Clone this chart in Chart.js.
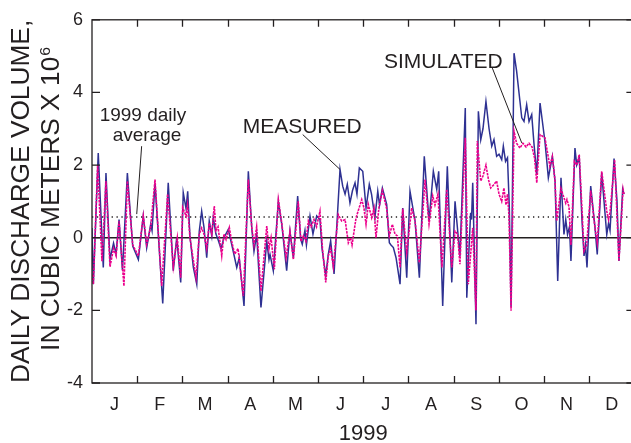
<!DOCTYPE html>
<html>
<head>
<meta charset="utf-8">
<script src="https://cdn.jsdelivr.net/npm/chart.js@4.4.1/dist/chart.umd.min.js"></script>
<style>
  html, body { margin: 0; padding: 0; background: #fff; overflow: hidden; }
  #wrap { width: 645px; height: 443px; position: relative; }
</style>
</head>
<body>
<div id="wrap"><canvas id="dischargeChart"></canvas></div>
<script>
// daily discharge volume, million m3, as [day of year, value] turning points
const measured = [
  [0,0.27],[0.9,-1.28],[4.2,2.33],[7.6,-0.82],[9.4,1.78],[12.1,-0.6],[14.5,-0.15],[16.2,-0.45],[18.2,0.5],[20.5,-0.9],
  [23.8,1.78],[27.4,-0.23],[31.2,-0.6],[34.5,0.6],[36.8,-0.28],[39.5,0.37],[40.4,0.2],[42.4,1.5],[47.6,-1.81],[51.3,1.51],
  [54.7,-0.91],[57.0,0.0],[59.7,-1.23],[61.4,1.24],[63.3,0.8],[64.4,1.28],[65.9,0.05],[68.2,-0.82],[70.5,-1.28],[72.2,0.18],
  [73.8,0.73],[75.4,0.27],[77.2,-0.55],[78.9,0.46],[80.6,0.05],[81.6,0.55],[83.4,0.1],[84.8,-0.05],[86.8,-0.3],[88.8,0.0],
  [91.7,0.23],[94.0,-0.18],[97.4,-0.82],[99.1,-0.55],[102.3,-1.88],[105.2,1.83],[107.5,0.27],[109.0,-0.37],[110.8,0.1],[113.7,-1.92],
  [117.6,-0.09],[119.1,-0.6],[119.8,-0.46],[122.0,-0.91],[125.4,1.0],[127.7,0.37],[131.0,-0.91],[133.2,0.18],[135.5,-0.55],[138.4,1.15],
  [140.4,-0.04],[141.5,-0.18],[143.3,0.2],[144.3,-0.2],[146.7,0.6],[148.7,0.1],[151.2,0.6],[153.4,0.5],[154.8,-0.3],[157.3,-1.05],
  [159.0,-0.46],[160.6,-0.09],[162.9,-1.0],[166.9,1.88],[168.7,1.42],[170.3,1.2],[171.8,1.47],[173.6,0.96],[175.3,1.3],[177.0,1.51],
  [178.3,1.2],[179.9,1.92],[182.2,1.83],[183.0,1.47],[184.4,0.82],[186.6,1.47],[188.1,1.2],[190.4,0.55],[192.3,1.28],[193.5,0.9],
  [195.4,1.37],[198.3,0.92],[200.1,-0.14],[201.2,-0.2],[202.8,-0.27],[204.6,-0.55],[207.3,-1.28],[209.1,0.82],[211.8,-1.1],[214.0,1.28],
  [217.4,0.46],[220.3,-1.1],[223.6,2.24],[226.8,0.46],[229.7,1.83],[232.0,1.33],[233.3,1.83],[236.0,-1.88],[239.1,1.97],[242.1,-1.23],
  [244.3,1.0],[246.5,0.0],[247.6,-0.5],[251.2,3.57],[252.2,-1.65],[254.8,0.69],[255.4,0.5],[256.2,1.51],[258.4,-2.38],[260.0,3.48],
  [261.6,2.7],[263.1,3.0],[265.1,3.75],[267.2,3.0],[269.0,2.52],[270.5,2.7],[272.3,2.24],[273.9,2.3],[275.7,2.15],[276.8,2.52],
  [278.3,2.1],[279.6,2.2],[280.8,0.87],[282.0,-1.9],[284.0,5.08],[285.7,4.6],[288.0,3.75],[289.2,3.3],[290.7,3.2],[292.5,3.66],
  [294.1,3.2],[295.9,3.39],[297.4,2.6],[299.3,1.74],[301.5,3.71],[304.8,2.65],[307.1,1.65],[309.8,2.24],[311.6,1.56],[313.4,-1.19],
  [315.6,1.65],[317.6,0.09],[318.8,0.5],[320.0,0.09],[321.3,0.3],[322.3,-0.64],[325.0,2.47],[326.2,2.0],[327.9,2.2],[329.7,0.5],
  [331.1,-0.5],[332.1,-0.2],[333.1,-0.82],[335.6,1.42],[338.5,0.27],[340.0,-0.46],[343.0,1.78],[346.4,0.09],[347.6,0.4],[348.6,0.2],
  [351.3,2.18],[353.3,1.0],[354.6,-0.64],[357.1,1.33],[358.0,1.2]
];

const simulated = [
  [0,-1.0],[0.9,-1.28],[3.8,2.0],[6.7,-0.65],[9.4,1.56],[12.1,-0.8],[14.5,-0.3],[16.2,-0.5],[18.2,0.45],[21.5,-1.33],
  [23.8,1.56],[27.4,-0.2],[31.2,-0.5],[34.5,0.6],[36.8,-0.18],[39.5,0.3],[42.4,1.6],[46.9,-1.33],[50.9,1.2],[54.7,-0.8],
  [57.4,0.0],[59.7,-1.1],[61.0,0.83],[63.3,0.6],[64.3,0.9],[65.9,0.0],[70.0,-1.1],[72.2,0.1],[73.8,0.27],[75.4,0.1],
  [77.2,-0.3],[78.9,0.4],[80.6,0.1],[82.3,0.87],[83.4,0.2],[84.8,0.3],[87.3,-0.5],[88.8,0.1],[90.2,-0.05],[92.4,0.28],
  [94.0,-0.1],[96.0,-0.45],[98.3,-0.3],[101.8,-1.6],[105.2,1.6],[107.5,0.3],[109.0,-0.2],[110.8,0.3],[113.7,-1.47],[117.6,0.32],
  [119.1,-0.3],[120.5,0.0],[122.7,-0.87],[125.4,1.05],[127.7,0.4],[130.6,-0.55],[133.2,0.18],[135.5,-0.6],[138.8,1.0],[140.6,-0.1],
  [142.3,0.05],[144.0,-0.1],[145.6,0.46],[147.4,0.3],[149.4,0.5],[151.1,0.3],[153.4,0.73],[155.1,-0.3],[157.3,-1.23],[159.0,-0.5],
  [160.6,-0.3],[162.4,-0.8],[165.7,0.64],[168.0,0.46],[170.3,0.5],[172.5,-0.14],[174.0,0.0],[175.0,-0.2],[177.7,0.55],[181.5,1.05],
  [183.0,0.82],[184.4,0.37],[185.9,0.92],[188.2,0.55],[189.8,0.82],[191.1,0.0],[193.1,0.83],[195.4,1.3],[198.3,0.8],[200.1,0.05],
  [202.1,0.37],[203.9,0.1],[205.5,0.05],[207.3,-0.82],[209.1,0.8],[211.8,-0.41],[215.1,0.82],[217.4,0.46],[220.3,-0.69],[224.1,1.6],
  [226.8,0.37],[229.3,1.15],[230.8,0.9],[232.8,1.2],[235.5,-0.82],[238.7,1.33],[242.1,-0.82],[244.3,0.18],[246.0,0.1],[247.6,-0.73],
  [251.2,2.75],[253.2,-1.28],[256.2,0.27],[258.4,-2.0],[259.3,2.66],[261.6,1.56],[263.1,1.7],[265.1,2.0],[266.8,1.6],[268.3,1.37],
  [270.2,1.45],[272.3,1.56],[273.9,1.2],[275.7,1.0],[277.2,1.37],[278.6,0.9],[279.6,1.2],[280.6,0.6],[282.0,-2.01],[284.0,2.93],
  [285.7,2.6],[288.0,2.47],[290.0,2.6],[292.1,2.5],[294.1,2.6],[296.1,2.5],[297.8,2.2],[299.3,1.51],[301.5,2.84],[304.8,2.75],
  [308.1,1.97],[309.8,2.24],[311.6,1.56],[312.7,0.46],[315.6,1.35],[317.6,1.1],[318.8,0.95],[319.6,1.05],[321.0,0.85],[322.3,-0.2],
  [324.6,2.1],[326.2,2.0],[327.9,2.29],[331.1,-0.37],[332.9,-0.2],[335.6,1.3],[338.5,0.27],[340.0,-0.14],[343.0,1.83],[346.4,0.73],
  [347.6,0.5],[348.6,0.7],[351.7,2.15],[354.6,-0.64],[357.4,1.33],[358.0,1.2]
];

const dailyAverage = 0.57;
const monthLabels = ['J', 'F', 'M', 'A', 'M', 'J', 'J', 'A', 'S', 'O', 'N', 'D'];
const yearLabel = '1999';
const yTicks = [-4, -2, 0, 2, 4, 6];

const DAYS = 365;
const monthLen = DAYS / 12;
const ink = '#231f20';
const fontFam = '"Liberation Sans", Arial, Helvetica, sans-serif';

// callouts: text anchor and leader line in data units
const notes = [
  { lines: ['1999 daily', 'average'], at: [34.3, 3.22], align: 'center', leader: [[33.4, 2.52], [30.1, 0.65]], size: 19 },
  { lines: ['MEASURED'], at: [101.4, 2.88], align: 'left', leader: [[141.8, 2.84], [166.9, 1.88]], size: 21 },
  { lines: ['SIMULATED'], at: [196.5, 4.67], align: 'left', leader: [[269.4, 4.67], [289.2, 2.61]], size: 21 }
];

const toXY = arr => arr.map(([d, v]) => ({ x: d, y: v }));

const boxPlugin = {
  id: 'boxPlugin',
  afterDatasetsDraw(chart) {
    const { ctx, chartArea: a, scales: { x, y } } = chart;
    ctx.save();
    ctx.strokeStyle = ink;
    ctx.lineWidth = 1.3;
    ctx.strokeRect(a.left, a.top, a.right - a.left, a.bottom - a.top);

    // inward tick marks on all four sides
    ctx.beginPath();
    for (let k = 1; k < 12; k++) {
      const px = Math.round(x.getPixelForValue(k * monthLen)) + 0.5;
      ctx.moveTo(px, a.bottom); ctx.lineTo(px, a.bottom - 7);
      ctx.moveTo(px, a.top); ctx.lineTo(px, a.top + 7);
    }
    yTicks.forEach(t => {
      const py = y.getPixelForValue(t);
      ctx.moveTo(a.left, py); ctx.lineTo(a.left + 8, py);
      ctx.moveTo(a.right, py); ctx.lineTo(a.right - 8, py);
    });
    ctx.stroke();

    // callout text and leaders
    ctx.fillStyle = ink;
    ctx.lineWidth = 1;
    notes.forEach(n => {
      ctx.font = n.size + 'px ' + fontFam;
      ctx.textAlign = n.align;
      ctx.textBaseline = 'alphabetic';
      const tx = x.getPixelForValue(n.at[0]);
      const ty = y.getPixelForValue(n.at[1]);
      n.lines.forEach((s, i) => ctx.fillText(s, tx + (i ? 4 : 0), ty + i * 20));
      ctx.beginPath();
      ctx.moveTo(x.getPixelForValue(n.leader[0][0]), y.getPixelForValue(n.leader[0][1]));
      ctx.lineTo(x.getPixelForValue(n.leader[1][0]), y.getPixelForValue(n.leader[1][1]));
      ctx.stroke();
    });
    ctx.restore();
  },
  afterDraw(chart) {
    // two-line rotated y title, stretched to the height of the plot
    const { ctx, chartArea: a } = chart;
    const mid = (a.top + a.bottom) / 2;
    const span = a.bottom - a.top;
    ctx.save();
    ctx.fillStyle = ink;
    ctx.textBaseline = 'alphabetic';

    ctx.save();
    ctx.translate(28.5, mid);
    ctx.rotate(-Math.PI / 2);
    ctx.font = '25px ' + fontFam;
    const l1 = 'DAILY DISCHARGE VOLUME,';
    const w1 = ctx.measureText(l1).width;
    ctx.scale(span / w1, 1);
    ctx.textAlign = 'center';
    ctx.fillText(l1, 0, 0);
    ctx.restore();

    ctx.save();
    ctx.translate(58.5, mid - 2);
    ctx.rotate(-Math.PI / 2);
    const l2 = 'IN CUBIC METERS X 10';
    ctx.font = '25px ' + fontFam;
    const w2 = ctx.measureText(l2).width;
    ctx.font = '15px ' + fontFam;
    const w3 = ctx.measureText('6').width;
    const k = 303 / (w2 + w3);
    ctx.scale(k, 1);
    const start = -(w2 + w3) / 2;
    ctx.textAlign = 'left';
    ctx.font = '25px ' + fontFam;
    ctx.fillText(l2, start, 0);
    ctx.font = '15px ' + fontFam;
    ctx.fillText('6', start + w2 + 1, -9);
    ctx.restore();

    ctx.restore();
  }
};

new Chart(document.getElementById('dischargeChart'), {
  type: 'line',
  data: {
    datasets: [
      {
        label: 'Simulated',
        data: toXY(simulated),
        borderColor: '#ec008c',
        borderWidth: 1.6,
        borderDash: [2.5, 1],
        pointRadius: 0,
        tension: 0,
        order: 0
      },
      {
        label: 'Measured',
        data: toXY(measured),
        borderColor: '#2e3192',
        borderWidth: 1.5,
        pointRadius: 0,
        tension: 0,
        order: 1
      },
      {
        label: 'Daily average',
        data: [{ x: 0, y: dailyAverage }, { x: DAYS, y: dailyAverage }],
        borderColor: ink,
        borderWidth: 1.3,
        borderDash: [1.3, 3.6],
        pointRadius: 0,
        order: 2
      }
    ]
  },
  options: {
    responsive: true,
    maintainAspectRatio: false,
    animation: false,
    events: [],
    layout: { padding: { left: 0, right: 10.6, top: 18.5, bottom: 0 } },
    plugins: { legend: { display: false }, tooltip: { enabled: false } },
    scales: {
      x: {
        type: 'linear',
        min: 0,
        max: DAYS,
        afterFit: s => { s.height = 60; },
        afterBuildTicks: s => { s.ticks = monthLabels.map((m, i) => ({ value: (i + 0.5) * monthLen })); },
        ticks: {
          autoSkip: false,
          maxRotation: 0,
          padding: 3,
          color: ink,
          font: { family: fontFam, size: 18 },
          callback: (v, i) => monthLabels[i]
        },
        grid: { display: false },
        border: { display: false },
        title: {
          display: true,
          text: yearLabel,
          color: ink,
          font: { family: fontFam, size: 22 },
          padding: { top: 0, bottom: -4 }
        }
      },
      y: {
        min: -4,
        max: 6,
        afterFit: s => { s.width = 92; },
        afterBuildTicks: s => { s.ticks = yTicks.map(v => ({ value: v })); },
        ticks: {
          padding: 9,
          color: ink,
          font: { family: fontFam, size: 18 }
        },
        grid: {
          drawTicks: false,
          color: c => (c.tick && c.tick.value === 0 ? ink : 'rgba(0,0,0,0)'),
          lineWidth: 1.5
        },
        border: { display: false }
      }
    }
  },
  plugins: [boxPlugin]
});
</script>
</body>
</html>
